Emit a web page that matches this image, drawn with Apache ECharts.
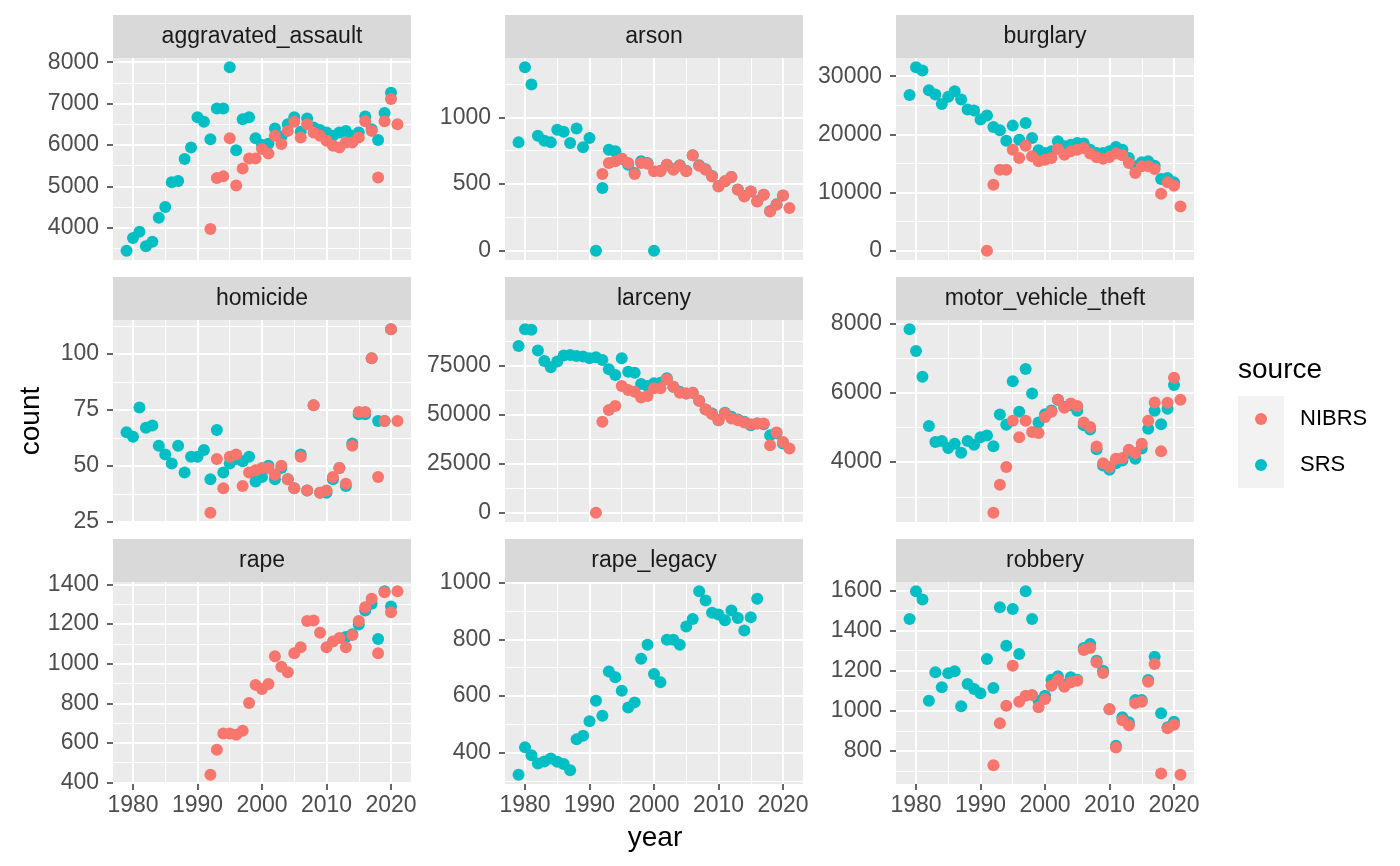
<!DOCTYPE html>
<html><head><meta charset="utf-8">
<script src="https://cdn.jsdelivr.net/npm/echarts/dist/echarts.min.js"></script>
<style>html,body{margin:0;padding:0;background:#fff}#c{width:1400px;height:866px}</style>
</head><body><div id="c"></div>
<script>
const years = [1979,1980,1981,1982,1983,1984,1985,1986,1987,1988,
  1989,1990,1991,1992,1993,1994,1995,1996,1997,1998,
  1999,2000,2001,2002,2003,2004,2005,2006,2007,2008,
  2009,2010,2011,2012,2013,2014,2015,2016,2017,2018,
  2019,2020,2021];
const N = null;
const panelNames = ['aggravated_assault','arson','burglary','homicide','larceny','motor_vehicle_theft','rape','rape_legacy','robbery'];

const aggravated_assault_SRS = [3440,3750,3900,3550,3660,4240,4500,5100,5130,5660,
  5940,6670,6560,6140,6880,6880,7880,5870,6620,6670,
  6160,6000,6030,6400,6200,6500,6670,6320,6640,6420,
  6360,6300,6220,6300,6340,6220,6300,6690,6380,6120,
  6770,7260,N];
const aggravated_assault_NIBRS = [N,N,N,N,N,N,N,N,N,N,
  N,N,N,3970,5200,5240,6160,5020,5430,5670,
  5670,5900,5790,6220,6020,6340,6560,6180,6500,6300,
  6220,6100,5980,5940,6060,6060,6180,6570,6340,5210,
  6570,7110,6500];

const arson_SRS = [812,1375,1245,862,825,812,907,892,807,915,
  775,845,0,470,757,745,690,645,582,670,
  657,0,600,645,610,640,600,715,640,610,
  560,485,520,552,460,410,445,372,420,298,
  348,415,N];
const arson_NIBRS = [N,N,N,N,N,N,N,N,N,N,
  N,N,N,575,657,670,690,657,575,657,
  652,595,595,645,607,637,595,715,637,607,
  557,482,520,552,457,407,445,370,420,295,
  345,415,320];

const burglary_SRS = [26790,31550,30980,27600,26850,25240,26450,27420,25990,24270,
  24100,22550,23240,21290,20710,18930,21510,19100,21970,19390,
  17270,16800,17100,18820,17960,18240,18530,18420,17380,16810,
  16810,17100,17840,17380,15950,14520,15200,15380,14630,12330,
  12510,11760,N];
const burglary_NIBRS = [N,N,N,N,N,N,N,N,N,N,
  N,N,0,11360,13940,13940,17380,15950,18070,16240,
  15380,15660,15950,17500,16520,17100,17380,17670,16700,16060,
  15830,16120,16700,16410,15090,13370,14520,14520,14060,9810,
  11760,11190,7630];

const homicide_SRS = [65,63,76,67,68,59,55,51,59,47,
  54,54,57,44,66,47,51,53,52,54,
  43,45,50,44,49,44,40,55,39,77,
  38,38,44,49,41,60,73,73,98,70,
  70,111,N];
const homicide_NIBRS = [N,N,N,N,N,N,N,N,N,N,
  N,N,N,29,53,40,54,55,41,47,
  48,49,49,46,50,44,40,54,39,77,
  38,39,45,49,42,59,74,74,98,45,
  70,111,70];

const larceny_SRS = [85280,93820,93480,82890,77590,74340,77250,80320,80660,80150,
  79810,78950,79470,78100,73320,70410,78950,72120,71610,65800,
  64800,66140,66480,68700,64430,61870,61000,61350,57250,52810,
  50760,47340,51100,49050,47680,46480,44780,45630,45290,39650,
  40500,35380,N];
const larceny_NIBRS = [N,N,N,N,N,N,N,N,N,N,
  N,N,0,46480,52470,54520,64770,62720,61870,58960,
  59640,63580,63580,68190,64430,61350,61010,61350,57250,52810,
  50420,47340,50760,48190,47340,46140,45290,45630,45630,34520,
  41020,36230,32810];

const motor_vehicle_theft_SRS = [7830,7200,6460,5040,4580,4610,4410,4530,4270,4610,
  4500,4720,4770,4460,5370,5080,6330,5450,6680,5980,
  5140,5380,5490,5800,5590,5640,5480,5060,4940,4370,
  3900,3780,3970,4050,4260,4100,4390,4960,5480,5090,
  5540,6220,N];
const motor_vehicle_theft_NIBRS = [N,N,N,N,N,N,N,N,N,N,
  N,N,N,2540,3350,3860,5190,4720,5190,4870,
  4840,5300,5450,5800,5570,5690,5620,5140,5010,4450,
  3970,3860,4100,4120,4360,4260,4530,5190,5720,4310,
  5710,6430,5800];

const rape_SRS = [N,N,N,N,N,N,N,N,N,N,
  N,N,N,N,N,N,N,N,N,N,
  N,N,N,N,N,N,N,N,N,N,
  N,N,N,N,1135,1148,1198,1268,1302,1125,
  1366,1289,N];
const rape_NIBRS = [N,N,N,N,N,N,N,N,N,N,
  N,N,N,439,565,648,648,641,662,801,
  893,872,898,1037,985,957,1053,1083,1215,1218,
  1156,1083,1112,1130,1083,1145,1215,1285,1328,1053,
  1361,1260,1366];

const rape_legacy_SRS = [321,418,390,361,368,379,367,359,337,447,
  459,510,583,530,686,666,618,559,577,731,
  781,677,648,798,798,781,845,872,970,937,
  894,888,867,902,875,831,878,943,N,N,
  N,N,N];
const rape_legacy_NIBRS = [];

const robbery_SRS = [1458,1597,1555,1050,1192,1117,1187,1197,1022,1133,
  1108,1087,1258,1113,1517,1325,1508,1283,1597,1458,
  1050,1075,1155,1172,1130,1167,1155,1313,1333,1250,
  1200,1008,825,967,942,1053,1053,1153,1270,988,
  917,945,N];
const robbery_NIBRS = [N,N,N,N,N,N,N,N,N,N,
  N,N,N,728,937,1025,1225,1045,1075,1078,
  1017,1058,1125,1155,1120,1142,1150,1303,1313,1242,
  1188,1008,817,953,928,1038,1045,1145,1233,687,
  913,930,680];

// tick labels (major) and minor grid values
const xMajor = [1980,1990,2000,2010,2020];
const xMinor = [1985,1995,2005,2015];
const aggravated_assault_major = [4000,5000,6000,7000,8000];
const aggravated_assault_minor = [3500,4500,5500,6500,7500];
const arson_major = [0,500,1000];
const arson_minor = [250,750,1250];
const burglary_major = [0,10000,20000,30000];
const burglary_minor = [5000,15000,25000];
const homicide_major = [25,50,75,100];
const homicide_minor = [37.5,62.5,87.5,112.5];
const larceny_major = [0,25000,50000,75000];
const larceny_minor = [12500,37500,62500,87500];
const motor_vehicle_theft_major = [4000,6000,8000];
const motor_vehicle_theft_minor = [3000,5000,7000];
const rape_major = [400,600,800,1000,1200,1400];
const rape_minor = [500,700,900,1100,1300];
const rape_legacy_major = [400,600,800,1000];
const rape_legacy_minor = [300,500,700,900];
const robbery_major = [800,1000,1200,1400,1600];
const robbery_minor = [700,900,1100,1300,1500];

const panelData = [
  [aggravated_assault_SRS, aggravated_assault_NIBRS, aggravated_assault_major, aggravated_assault_minor],
  [arson_SRS, arson_NIBRS, arson_major, arson_minor],
  [burglary_SRS, burglary_NIBRS, burglary_major, burglary_minor],
  [homicide_SRS, homicide_NIBRS, homicide_major, homicide_minor],
  [larceny_SRS, larceny_NIBRS, larceny_major, larceny_minor],
  [motor_vehicle_theft_SRS, motor_vehicle_theft_NIBRS, motor_vehicle_theft_major, motor_vehicle_theft_minor],
  [rape_SRS, rape_NIBRS, rape_major, rape_minor],
  [rape_legacy_SRS, rape_legacy_NIBRS, rape_legacy_major, rape_legacy_minor],
  [robbery_SRS, robbery_NIBRS, robbery_major, robbery_minor]
];

const FONT = '"Liberation Sans", Arial, Helvetica, sans-serif';
const colLeft = [113, 505, 896], rowTop = [58, 320, 582];
const PW = 298, PH = 202, STRIP = 43;
const C_NIBRS = '#F8766D', C_SRS = '#00BFC4';

function pts(arr){ const o=[]; years.forEach((y,i)=>{ if(arr[i]!==undefined && arr[i]!==null) o.push([y,arr[i]]); }); return o; }
function expand(vals){ const mn=Math.min(...vals), mx=Math.max(...vals), r=mx-mn; return [mn-0.05*r, mx+0.05*r]; }

const xr = expand(years);
const grids=[], xAxes=[], yAxes=[], series=[], graphics=[];
panelData.forEach((p,i)=>{
  const r=Math.floor(i/3), c=i%3;
  const [srs,nibrs,major,minor]=p;
  const sp=pts(srs), np=pts(nibrs);
  const yr = expand(sp.concat(np).map(d=>d[1]));
  grids.push({left:colLeft[c], top:rowTop[r], width:PW, height:PH, show:true, backgroundColor:'#EBEBEB', borderWidth:0});
  const bottom = r===2;
  xAxes.push({type:'value', gridIndex:i, min:xr[0], max:xr[1],
    axisLine:{show:false}, splitLine:{show:false},
    axisTick:{show:bottom, customValues:xMajor, length:6, lineStyle:{color:'#333333', width:1.5}},
    axisLabel:{show:bottom, customValues:xMajor, formatter:v=>String(v), fontSize:23, color:'#4D4D4D', margin:10, fontFamily:FONT}});
  yAxes.push({type:'value', gridIndex:i, min:yr[0], max:yr[1],
    axisLine:{show:false}, splitLine:{show:false},
    axisTick:{show:true, customValues:major, length:6, lineStyle:{color:'#333333', width:1.5}},
    axisLabel:{show:true, customValues:major, formatter:v=>String(v), fontSize:23, color:'#4D4D4D', margin:14, fontFamily:FONT}});
  const ml = [];
  minor.forEach(v=>ml.push({yAxis:v, lineStyle:{width:1}}));
  xMinor.forEach(v=>ml.push({xAxis:v, lineStyle:{width:1}}));
  major.forEach(v=>ml.push({yAxis:v, lineStyle:{width:2}}));
  xMajor.forEach(v=>ml.push({xAxis:v, lineStyle:{width:2}}));
  series.push({type:'scatter', name:'gridlines', xAxisIndex:i, yAxisIndex:i, data:[], silent:true, z:1,
    markLine:{silent:true, z:1, symbol:['none','none'], animation:false, label:{show:false},
      lineStyle:{color:'#FFFFFF', type:'solid', opacity:1}, emphasis:{disabled:true}, data:ml}});
  if(sp.length) series.push({type:'scatter', name:'SRS', xAxisIndex:i, yAxisIndex:i, data:sp, symbolSize:12, z:3,
    itemStyle:{color:C_SRS, opacity:1}, silent:true});
  if(np.length) series.push({type:'scatter', name:'NIBRS', xAxisIndex:i, yAxisIndex:i, data:np, symbolSize:12, z:4,
    itemStyle:{color:C_NIBRS, opacity:1}, silent:true});
  graphics.push({type:'rect', silent:true, shape:{x:colLeft[c], y:rowTop[r]-STRIP, width:PW, height:STRIP}, style:{fill:'#D9D9D9'}});
  graphics.push({type:'text', silent:true, x:colLeft[c]+PW/2, y:rowTop[r]-STRIP/2,
    style:{text:panelNames[i], fontSize:23, fontFamily:FONT, fill:'#1A1A1A', align:'center', verticalAlign:'middle'}});
});
graphics.push({type:'text', silent:true, x:31, y:421, rotation:Math.PI/2,
  style:{text:'count', fontSize:28, fontFamily:FONT, fill:'#000', align:'center', verticalAlign:'middle'}});
graphics.push({type:'text', silent:true, x:655, y:838,
  style:{text:'year', fontSize:28, fontFamily:FONT, fill:'#000', align:'center', verticalAlign:'middle'}});
graphics.push({type:'text', silent:true, x:1238, y:370,
  style:{text:'source', fontSize:28, fontFamily:FONT, fill:'#000', align:'left', verticalAlign:'middle'}});
graphics.push({type:'rect', silent:true, z:-1, shape:{x:1238, y:396, width:46, height:92}, style:{fill:'#F2F2F2'}});

const chart = echarts.init(document.getElementById('c'), null, {renderer:'canvas'});
chart.setOption({
  animation:false,
  backgroundColor:'#FFFFFF',
  textStyle:{fontFamily:FONT},
  grid:grids, xAxis:xAxes, yAxis:yAxes, series:series, graphic:graphics,
  legend:{data:['NIBRS','SRS'], orient:'vertical', left:1255, top:406, icon:'circle', itemWidth:12, itemHeight:12,
    itemGap:20, padding:0, selectedMode:false,
    textStyle:{fontSize:22, color:'#000', fontFamily:FONT, padding:[0,0,0,28], lineHeight:26}}
});
</script></body></html>
